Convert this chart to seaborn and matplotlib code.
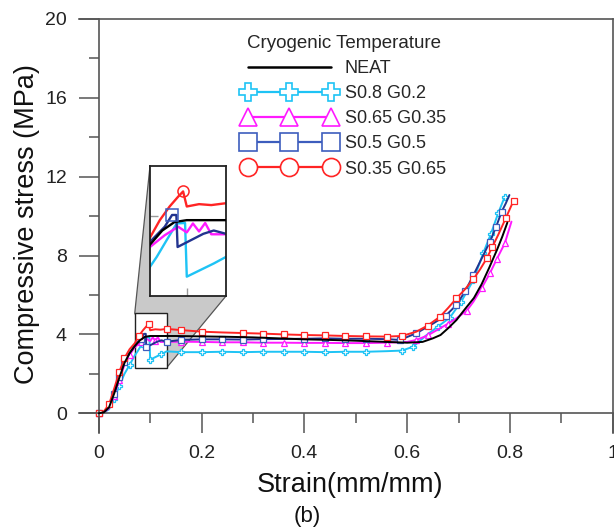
import numpy as np
import matplotlib
matplotlib.use("Agg")
import matplotlib.pyplot as plt
from matplotlib.lines import Line2D
from matplotlib.patches import Polygon, Rectangle
import seaborn as sns

# strain (mm/mm) / compressive stress (MPa)
neat_strain = [0, 0.01, 0.02, 0.03, 0.04, 0.05, 0.06, 0.07, 0.08, 0.09, 0.1, 0.12, 0.15, 0.2,
               0.25, 0.3, 0.35, 0.4, 0.45, 0.5, 0.55, 0.6, 0.63, 0.65, 0.665, 0.68, 0.696,
               0.71, 0.73, 0.745, 0.76, 0.775, 0.785, 0.795]
neat_stress = [0, 0.05, 0.3, 1.0, 1.8, 2.55, 3.05, 3.4, 3.7, 3.88, 3.92, 3.92, 3.92, 3.9,
               3.88, 3.85, 3.8, 3.75, 3.72, 3.68, 3.63, 3.58, 3.62, 3.8, 3.97, 4.32, 4.73,
               5.2, 5.85, 6.55, 7.4, 8.3, 8.95, 9.67]

s08_strain = [0, 0.01, 0.02, 0.03, 0.04, 0.05, 0.06, 0.07, 0.0755, 0.0837, 0.0918, 0.0986,
              0.1, 0.111, 0.122, 0.132, 0.16, 0.2, 0.24, 0.28, 0.32, 0.36, 0.4, 0.44, 0.48,
              0.52, 0.56, 0.59, 0.612, 0.638, 0.66, 0.683, 0.705, 0.729, 0.748, 0.763,
              0.777, 0.79]
s08_stress = [0, 0.04, 0.2, 0.7, 1.4, 2.0, 2.45, 2.93, 3.14, 3.5, 3.85, 3.86,
              2.72, 2.86, 3.0, 3.14, 3.1, 3.1, 3.12, 3.1, 3.12, 3.12, 3.12, 3.1, 3.12,
              3.12, 3.15, 3.18, 3.38, 3.97, 4.4, 4.85, 5.65, 6.76, 8.12, 9.1,
              10.14, 10.99]

s065_strain = [0, 0.01, 0.02, 0.03, 0.04, 0.05, 0.06, 0.07, 0.082, 0.093, 0.1, 0.105, 0.11,
               0.115, 0.12, 0.132, 0.16, 0.2, 0.24, 0.28, 0.32, 0.36, 0.4, 0.44, 0.48, 0.52,
               0.56, 0.6, 0.618, 0.64, 0.664, 0.68, 0.696, 0.716, 0.729, 0.745, 0.761,
               0.775, 0.79, 0.803]
s065_stress = [0, 0.05, 0.25, 0.9, 1.7, 2.45, 2.95, 3.35, 3.6, 3.78, 3.66, 3.85, 3.68,
               3.86, 3.62, 3.62, 3.63, 3.62, 3.6, 3.6, 3.58, 3.58, 3.57, 3.57, 3.56, 3.56,
               3.58, 3.62, 3.72, 3.95, 4.31, 4.55, 4.82, 5.2, 5.66, 6.35, 7.1,
               7.85, 8.62, 9.72]

s05_strain = [0, 0.01, 0.02, 0.03, 0.04, 0.05, 0.06, 0.07, 0.082, 0.088, 0.0915, 0.0925,
              0.103, 0.1135, 0.122, 0.132, 0.16, 0.2, 0.24, 0.28, 0.32, 0.36, 0.4, 0.44,
              0.48, 0.52, 0.56, 0.586, 0.618, 0.651, 0.675, 0.696, 0.713, 0.729, 0.745,
              0.761, 0.773, 0.784, 0.792, 0.799]
s05_stress = [0, 0.06, 0.3, 1.0, 1.85, 2.6, 3.05, 3.46, 3.78, 4.03, 4.03, 3.35,
              3.49, 3.63, 3.70, 3.63, 3.72, 3.75, 3.75, 3.74, 3.76, 3.77, 3.78, 3.8,
              3.78, 3.78, 3.76, 3.72, 4.06, 4.56, 4.95, 5.49, 6.2, 7.01, 7.85,
              8.7, 9.45, 10.23, 10.65, 11.07]

s035_strain = [0, 0.01, 0.02, 0.03, 0.04, 0.05, 0.06, 0.07, 0.078, 0.086, 0.093, 0.097,
               0.1, 0.11, 0.12, 0.132, 0.16, 0.2, 0.24, 0.28, 0.32, 0.36, 0.4, 0.44, 0.48,
               0.52, 0.56, 0.59, 0.618, 0.64, 0.664, 0.68, 0.696, 0.713, 0.729, 0.742,
               0.755, 0.766, 0.777, 0.792, 0.807]
s035_stress = [0, 0.1, 0.45, 1.25, 2.1, 2.8, 3.25, 3.55, 3.92, 4.21, 4.42, 4.53,
               4.21, 4.26, 4.24, 4.28, 4.22, 4.14, 4.1, 4.07, 4.04, 4.0, 3.97, 3.95, 3.92,
               3.9, 3.89, 3.92, 4.14, 4.45, 4.9, 5.35, 5.83, 6.3, 6.81, 7.3,
               7.86, 8.45, 9.04, 9.9, 10.78]

labels = ["NEAT", "S0.8 G0.2", "S0.65 G0.35", "S0.5 G0.5", "S0.35 G0.65"]
legend_title = "Cryogenic Temperature"

x_ticks = [0, 0.2, 0.4, 0.6, 0.8, 1]
x_ticklabels = ["0", "0.2", "0.4", "0.6", "0.8", "1"]
y_ticks = [0, 4, 8, 12, 16, 20]

# window magnified in the inset
zoom_x = [0.070, 0.132]
zoom_y = [2.31, 5.07]

sns.set_style("ticks")
plt.rcParams["font.family"] = ["Liberation Sans", "DejaVu Sans"]

CYAN = "#1ec3f5"
MAG = "#ff1aff"
BLUE_LINE = "#22338f"
BLUE_MK = "#3d5dbd"
RED = "#ff2424"
GREY = "#555555"

# (strain, stress, line colour, marker colour, main marker, legend marker)
series = [
    (s08_strain, s08_stress, CYAN, CYAN, "P", "P"),
    (s065_strain, s065_stress, MAG, MAG, "^", "^"),
    (s05_strain, s05_stress, BLUE_LINE, BLUE_MK, "s", "s"),
    (s035_strain, s035_stress, RED, RED, "s", "o"),
    (neat_strain, neat_stress, "black", "black", None, None),
]
legend_order = [4, 0, 1, 2, 3]

fig = plt.figure(figsize=(6.14, 5.29), dpi=100)
ax = fig.add_axes([0.1282, 0.1815, 0.8697, 0.7826])

for xs, ys, lc, mc, mk, _ in series:
    kw = dict(color=lc, lw=1.4, zorder=3 if mk is None else 2)
    if mk is not None:
        kw.update(marker=mk, markevery=0.032, markersize=3.8,
                  markerfacecolor="white", markeredgecolor=mc, markeredgewidth=0.9)
    sns.lineplot(x=xs, y=ys, ax=ax, sort=False, estimator=None, **kw)

ax.set_xlim(-0.039, 1.0)
ax.set_ylim(-1.0, 20)
ax.spines["left"].set_position(("data", 0))
ax.spines["bottom"].set_position(("data", 0))
for sp in ax.spines.values():
    sp.set_color(GREY)
    sp.set_linewidth(1.2)

ax.set_xticks(x_ticks)
ax.set_xticklabels(x_ticklabels)
ax.set_xticks([0.1, 0.3, 0.5, 0.7, 0.9], minor=True)
ax.set_yticks(y_ticks)
ax.set_yticks([2, 6, 10, 14, 18], minor=True)
ax.tick_params(which="major", direction="out", length=14.4, width=1.1, color=GREY,
               labelsize=14, labelcolor="#222222", pad=8.5)
ax.tick_params(which="minor", direction="out", length=7.2, width=1.1, color=GREY)

ax.set_xlabel("Strain(mm/mm)", fontsize=19.5, color="#111111")
ax.set_ylabel("Compressive stress (MPa)", fontsize=19.5, color="#111111")
ax.xaxis.set_label_coords(0.508, -0.094)
ax.yaxis.set_label_coords(-0.072, 0.505)

# inset with the yield region
axins = fig.add_axes([0.2443, 0.4405, 0.1238, 0.2457])
for xs, ys, lc, mc, mk, _ in series:
    sns.lineplot(x=xs, y=ys, ax=axins, sort=False, estimator=None,
                 color=lc, lw=1.7, zorder=3 if mk is None else 2)
# open symbols at the first peak of the red and blue curves
for xs, ys, lc, mc, mk in [(s035_strain, s035_stress, RED, RED, "o"),
                           (s05_strain, s05_stress, BLUE_LINE, BLUE_MK, "s")]:
    early = [i for i, v in enumerate(xs) if v < 0.2]
    ipk = int(np.argmax([ys[i] for i in early]))
    axins.plot(xs[ipk], ys[ipk], marker=mk, ms=8, mfc="none", mec=mc, mew=1.1, zorder=4)
axins.set_xlim(zoom_x)
axins.set_ylim(zoom_y)
axins.set_xticks([0.1])
axins.set_yticks([4])
axins.tick_params(direction="in", length=6, width=1, color="#999999",
                  labelbottom=False, labelleft=False)
axins.set_xlabel("")
axins.set_ylabel("")
for sp in axins.spines.values():
    sp.set_color("#222222")
    sp.set_linewidth(1.3)

# grey wedge joining the small box and the inset
ax.add_patch(Rectangle((zoom_x[0], zoom_y[0]), zoom_x[1] - zoom_x[0], zoom_y[1] - zoom_y[0],
                       fc="white", ec="#222222", lw=1.0, zorder=1.5))
corners = [axins.transAxes.transform((0, 1)),
           ax.transData.transform((zoom_x[0], zoom_y[1])),
           ax.transData.transform((zoom_x[1], zoom_y[0])),
           axins.transAxes.transform((1, 0))]
wedge = ax.transData.inverted().transform(np.array(corners))
ax.add_patch(Polygon(wedge, closed=True, fc="#c9c9c9", ec="#555555", lw=0.9,
                     zorder=1, clip_on=False))

# legend
handles = []
for i in legend_order:
    xs, ys, lc, mc, mk, lmk = series[i]
    if lmk is None:
        handles.append(Line2D([], [], color=lc, lw=1.8))
    else:
        handles.append(Line2D([], [], color=mc, lw=1.6, marker=lmk, ms=13,
                              mfc="white", mec=mc, mew=1.2))
ax.legend(handles, labels, title=legend_title, loc="upper left",
          bbox_to_anchor=(0.395, 0.934), bbox_transform=fig.transFigure,
          frameon=False, fontsize=13, title_fontsize=13.5, numpoints=3,
          handlelength=5.2, handletextpad=0.45, labelspacing=0.45, borderpad=0,
          borderaxespad=0)

fig.text(0.5, 0.0227, "(b)", ha="center", va="center", fontsize=16, color="#111111")

fig.savefig("out.png", dpi=100)
